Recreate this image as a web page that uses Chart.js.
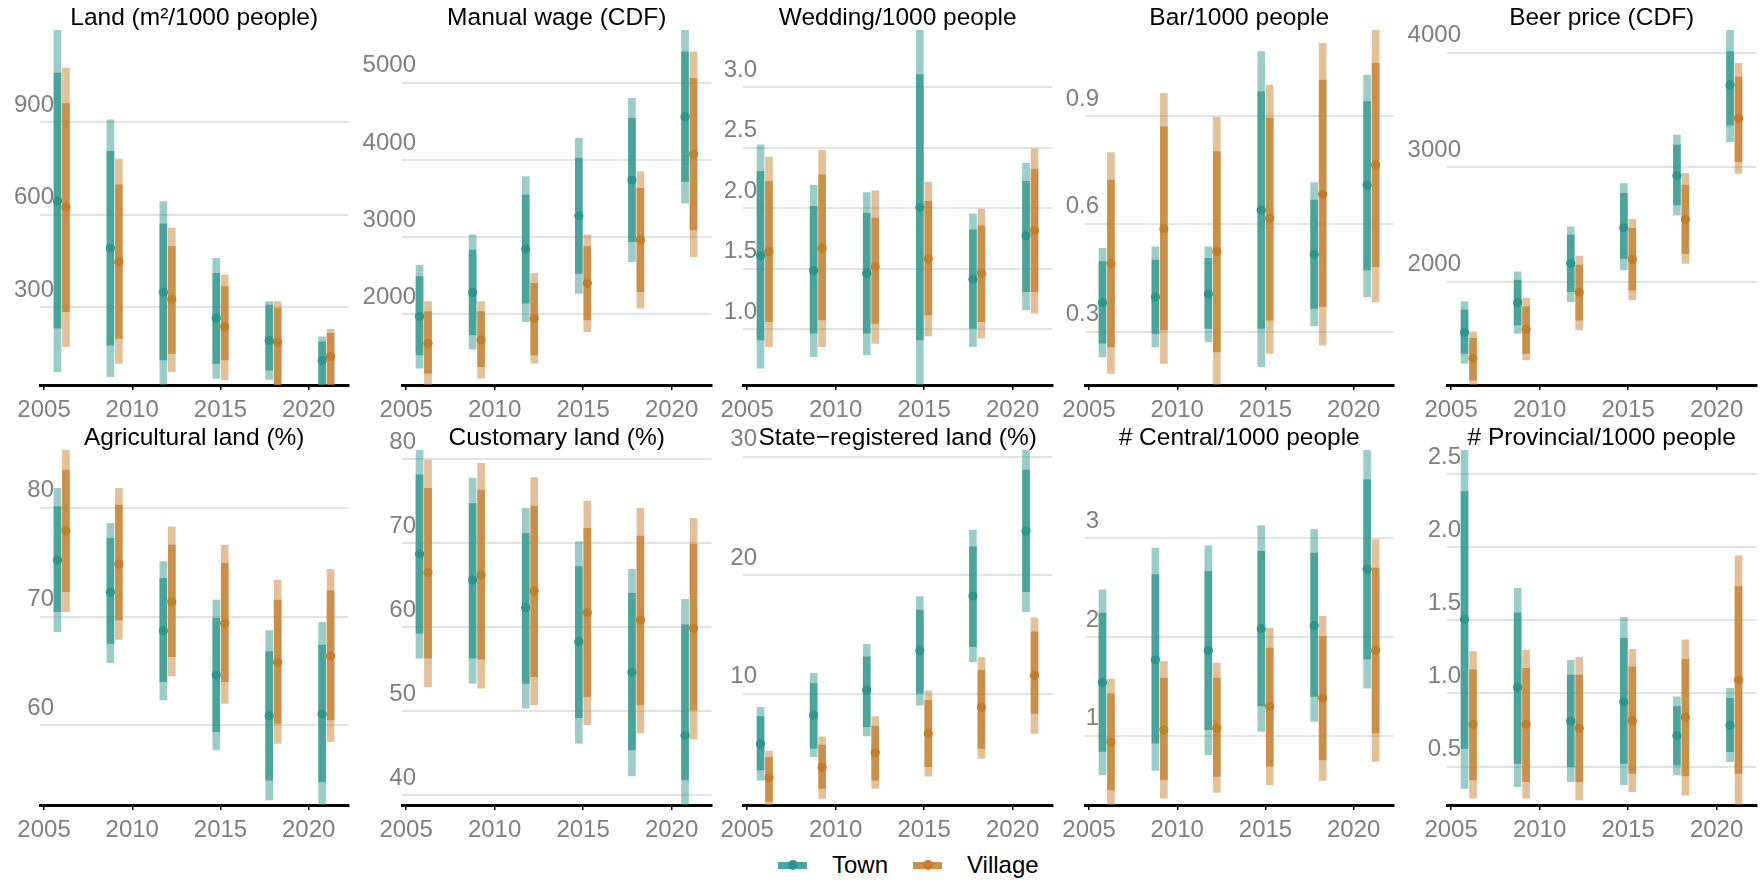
<!DOCTYPE html>
<html>
<head>
<meta charset="utf-8">
<title>Town and village indicators, 2006–2021</title>
<script src="https://cdn.jsdelivr.net/npm/chart.js@4.4.1/dist/chart.umd.min.js"></script>
<style>
  html, body { margin: 0; padding: 0; background: #ffffff; }
  body { width: 1761px; height: 880px; position: relative; overflow: hidden;
         font-family: "Liberation Sans", Arial, Helvetica, sans-serif; }
  canvas.panel { position: absolute; }
  #legend { position: absolute; left: 778px; top: 852px; height: 26px;
            display: flex; align-items: center; font-size: 24px; color: #000; }
  #legend .key { position: relative; width: 29px; height: 26px; margin-right: 25px; }
  #legend .key .bar { position: absolute; left: 0; top: 9.5px; width: 29px; height: 7px; }
  #legend .key .dot { position: absolute; left: 9.5px; top: 8px; width: 10px; height: 10px; border-radius: 50%; }
  #legend .lab { margin-right: 25px; line-height: 26px; }
</style>
</head>
<body>
<div id="legend"></div>
<script>
// ---- survey years and axis labels ----
const years = [2006, 2009, 2012, 2015, 2018, 2021];
const xTickLabels = ['2005', '2010', '2015', '2020'];
const seriesNames = ['Town', 'Village'];

// ---- Land (m²/1000 people) ----
const landTicks = ['300', '600', '900'];
const landTownPoint = [644, 491, 348, 263, 191, 126];
const landTownOuter = [[90, 1250], [74, 907], [30, 642], [68, 458], [65, 317], [20, 203]];
const landTownInner = [[231, 1059], [176, 805], [128, 570], [117, 409], [95, 306], [20, 187]];
const landVillagePoint = [624, 447, 325, 236, 185, 139];
const landVillageOuter = [[171, 1075], [117, 780], [90, 556], [63, 404], [20, 317], [20, 227]];
const landVillageInner = [[285, 960], [198, 696], [149, 496], [128, 366], [30, 296], [20, 214]];

// ---- Manual wage (CDF) ----
const wageTicks = ['2000', '3000', '4000', '5000'];
const wageTownPoint = [1970, 2281, 2846, 3274, 3740, 4560];
const wageTownOuter = [[1301, 2639], [1547, 3028], [1905, 3783], [2272, 4279], [2682, 4797], [3438, 5750]];
const wageTownInner = [[1474, 2488], [1733, 2833], [2143, 3545], [2531, 4020], [2941, 4538], [3718, 5401]];
const wageVillagePoint = [1625, 1668, 1949, 2402, 2963, 4076];
const wageVillageOuter = [[1000, 2164], [1172, 2164], [1366, 2531], [1776, 3028], [2078, 3848], [2747, 5401]];
const wageVillageInner = [[1236, 2035], [1323, 2035], [1474, 2402], [1927, 2877], [2294, 3632], [3092, 5056]];

// ---- Wedding/1000 people ----
const wedTicks = ['1.0', '1.5', '2.0', '2.5', '3.0'];
const wedTownPoint = [1.606, 1.485, 1.463, 2.005, 1.413, 1.771];
const wedTownOuter = [[0.678, 2.523], [0.774, 2.187], [0.788, 2.129], [0.40, 3.60], [0.857, 1.953], [1.160, 2.372]];
const wedTownInner = [[0.912, 2.303], [0.967, 2.014], [0.967, 1.959], [0.912, 3.102], [1.008, 1.821], [1.311, 2.220]];
const wedVillagePoint = [1.642, 1.669, 1.518, 1.581, 1.463, 1.815];
const wedVillageOuter = [[0.857, 2.421], [0.857, 2.477], [0.884, 2.143], [0.945, 2.212], [0.926, 1.992], [1.132, 2.490]];
const wedVillageInner = [[1.063, 2.220], [1.077, 2.275], [1.049, 1.917], [1.118, 2.055], [1.063, 1.854], [1.311, 2.322]];

// ---- Bar/1000 people ----
const barTicks = ['0.3', '0.6', '0.9'];
const barTownPoint = [0.381, 0.397, 0.405, 0.638, 0.515, 0.708];
const barTownOuter = [[0.230, 0.532], [0.258, 0.536], [0.272, 0.536], [0.203, 1.079], [0.316, 0.715], [0.397, 1.014]];
const barTownInner = [[0.268, 0.495], [0.295, 0.499], [0.309, 0.504], [0.309, 0.968], [0.365, 0.666], [0.472, 0.940]];
const barVillagePoint = [0.490, 0.586, 0.523, 0.615, 0.682, 0.764];
const barVillageOuter = [[0.184, 0.798], [0.212, 0.963], [0.10, 0.896], [0.240, 0.986], [0.263, 1.102], [0.383, 1.20]];
const barVillageInner = [[0.258, 0.722], [0.305, 0.870], [0.244, 0.801], [0.332, 0.894], [0.370, 1.000], [0.481, 1.047]];

// ---- Beer price (CDF) ----
const beerTicks = ['2000', '3000', '4000'];
const beerTownPoint = [1558, 1817, 2160, 2472, 2926, 3718];
const beerTownOuter = [[1287, 1825], [1549, 2087], [1825, 2480], [2102, 2859], [2582, 3281], [3223, 4250]];
const beerTownInner = [[1374, 1753], [1622, 2015], [1913, 2407], [2204, 2772], [2670, 3194], [3368, 4009]];
const beerVillagePoint = [1331, 1584, 1907, 2195, 2545, 3427];
const beerVillageOuter = [[1050, 1563], [1316, 1855], [1578, 2224], [1840, 2544], [2160, 2946], [2946, 3907]];
const beerVillageInner = [[1141, 1505], [1374, 1782], [1665, 2146], [1927, 2466], [2248, 2844], [3048, 3790]];

// ---- Agricultural land (%) ----
const agriTicks = ['60', '70', '80'];
const agriTownPoint = [75.19, 72.22, 68.70, 64.62, 60.89, 61.04];
const agriTownOuter = [[68.61, 81.78], [65.76, 78.56], [62.33, 75.04], [57.73, 71.52], [53.14, 68.70], [52.0, 69.46]];
const agriTownInner = [[70.44, 80.09], [67.53, 77.18], [64.01, 73.51], [59.42, 69.83], [54.97, 66.77], [54.82, 67.38]];
const agriVillagePoint = [77.89, 74.82, 71.36, 69.37, 65.79, 66.37];
const agriVillageOuter = [[70.44, 86.0], [67.90, 81.78], [64.53, 78.25], [62.02, 76.57], [58.34, 73.35], [58.50, 74.33]];
const agriVillageInner = [[72.28, 83.46], [69.68, 80.25], [66.31, 76.57], [64.01, 74.88], [60.18, 71.52], [60.49, 72.37]];

// ---- Customary land (%) ----
const custTicks = ['40', '50', '60', '70', '80'];
const custTownPoint = [68.69, 65.60, 62.30, 58.25, 54.60, 47.07];
const custTownOuter = [[56.27, 81.5], [53.29, 77.70], [50.32, 74.13], [46.15, 70.16], [42.26, 66.87], [37.0, 63.29]];
const custTownInner = [[59.25, 78.10], [56.27, 74.72], [53.29, 71.15], [49.21, 67.18], [45.36, 64.01], [41.79, 60.24]];
const custVillagePoint = [66.47, 66.19, 64.29, 61.71, 60.83, 59.84];
const custVillageOuter = [[52.90, 79.88], [52.70, 79.48], [50.72, 77.78], [48.33, 75.00], [47.34, 74.13], [46.63, 72.94]];
const custVillageInner = [[56.27, 76.51], [56.15, 76.31], [54.09, 74.40], [51.71, 71.75], [50.72, 70.83], [50.12, 69.84]];

// ---- State-registered land (%) ----
const stateTicks = ['10', '20', '30'];
const stateTownPoint = [5.75, 8.20, 10.31, 13.63, 18.24, 23.73];
const stateTownOuter = [[2.71, 8.85], [4.68, 11.72], [6.43, 14.16], [9.04, 18.19], [12.70, 23.81], [16.92, 31.0]];
const stateTownInner = [[3.56, 8.06], [5.39, 10.87], [7.21, 13.12], [10.03, 17.06], [13.97, 22.40], [18.61, 28.87]];
const stateVillagePoint = [2.91, 3.78, 5.02, 6.65, 8.85, 11.55];
const stateVillageOuter = [[0.2, 5.16], [1.17, 6.37], [2.01, 8.06], [3.05, 10.25], [4.54, 13.04], [6.65, 16.41]];
const stateVillageInner = [[0.9, 4.63], [2.01, 5.67], [2.71, 7.27], [3.84, 9.41], [5.39, 12.00], [8.34, 15.23]];

// ---- # Central/1000 people ----
const centTicks = ['1', '2', '3'];
const centTownPoint = [1.540, 1.769, 1.863, 2.083, 2.113, 2.686];
const centTownOuter = [[0.605, 2.477], [0.649, 2.899], [0.808, 2.922], [1.044, 3.125], [1.145, 3.084], [1.482, 4.0]];
const centTownInner = [[0.841, 2.241], [0.926, 2.629], [1.061, 2.663], [1.303, 2.865], [1.398, 2.848], [1.776, 3.590]];
const centVillagePoint = [0.936, 1.061, 1.077, 1.297, 1.381, 1.863];
const centVillageOuter = [[0.2, 1.573], [0.369, 1.752], [0.426, 1.735], [0.504, 2.089], [0.548, 2.207], [0.741, 2.983]];
const centVillageInner = [[0.453, 1.425], [0.555, 1.583], [0.588, 1.583], [0.690, 1.887], [0.757, 2.005], [1.027, 2.696]];

// ---- # Provincial/1000 people ----
const provTicks = ['0.5', '1.0', '1.5', '2.0', '2.5'];
const provTownPoint = [1.507, 1.042, 0.812, 0.944, 0.712, 0.782];
const provTownOuter = [[0.352, 2.75], [0.363, 1.719], [0.397, 1.229], [0.375, 1.520], [0.443, 0.978], [0.534, 1.035]];
const provTownInner = [[0.625, 2.379], [0.523, 1.552], [0.500, 1.126], [0.523, 1.377], [0.511, 0.910], [0.602, 0.967]];
const provVillagePoint = [0.789, 0.789, 0.762, 0.814, 0.837, 1.092];
const provVillageOuter = [[0.284, 1.286], [0.284, 1.297], [0.272, 1.245], [0.329, 1.302], [0.306, 1.366], [0.2, 1.940]];
const provVillageInner = [[0.409, 1.161], [0.397, 1.172], [0.397, 1.126], [0.454, 1.183], [0.436, 1.233], [0.454, 1.730]];

// ---- panel table: title, y ticks, visible y range and the series arrays ----
const panels = [
  { title: 'Land (m²/1000 people)', ticks: landTicks, yMin: 46.6, yMax: 1199,
    town: [landTownOuter, landTownInner, landTownPoint], village: [landVillageOuter, landVillageInner, landVillagePoint] },
  { title: 'Manual wage (CDF)', ticks: wageTicks, yMin: 1084, yMax: 5683,
    town: [wageTownOuter, wageTownInner, wageTownPoint], village: [wageVillageOuter, wageVillageInner, wageVillagePoint] },
  { title: 'Wedding/1000 people', ticks: wedTicks, yMin: 0.54, yMax: 3.47,
    town: [wedTownOuter, wedTownInner, wedTownPoint], village: [wedVillageOuter, wedVillageInner, wedVillagePoint] },
  { title: 'Bar/1000 people', ticks: barTicks, yMin: 0.152, yMax: 1.139,
    town: [barTownOuter, barTownInner, barTownPoint], village: [barVillageOuter, barVillageInner, barVillagePoint] },
  { title: 'Beer price (CDF)', ticks: beerTicks, yMin: 1098, yMax: 4198,
    town: [beerTownOuter, beerTownInner, beerTownPoint], village: [beerVillageOuter, beerVillageInner, beerVillagePoint] },
  { title: 'Agricultural land (%)', ticks: agriTicks, yMin: 52.68, yMax: 85.3,
    town: [agriTownOuter, agriTownInner, agriTownPoint], village: [agriVillageOuter, agriVillageInner, agriVillagePoint] },
  { title: 'Customary land (%)', ticks: custTicks, yMin: 38.8, yMax: 81.07,
    town: [custTownOuter, custTownInner, custTownPoint], village: [custVillageOuter, custVillageInner, custVillagePoint] },
  { title: 'State\u2212registered land (%)', ticks: stateTicks, yMin: 0.61, yMax: 30.56,
    town: [stateTownOuter, stateTownInner, stateTownPoint], village: [stateVillageOuter, stateVillageInner, stateVillagePoint] },
  { title: '# Central/1000 people', ticks: centTicks, yMin: 0.30, yMax: 3.89,
    town: [centTownOuter, centTownInner, centTownPoint], village: [centVillageOuter, centVillageInner, centVillagePoint] },
  { title: '# Provincial/1000 people', ticks: provTicks, yMin: 0.238, yMax: 2.664,
    town: [provTownOuter, provTownInner, provTownPoint], village: [provVillageOuter, provVillageInner, provVillagePoint] }
];

// ---- page geometry (plot areas in page pixels) ----
const colLeft = [40, 402, 743, 1085, 1447];
const colRight = [350, 713, 1054, 1395, 1758];
const rowTop = [30, 450];
const rowBottom = [385, 805];
const Y_AXIS_W = 55, RIGHT_PAD = 3, TITLE_H = 30, X_AXIS_H = 35;
const LABEL_INSET = 14;          // y labels end this far inside the plot area
const X_MIN = 2004.77, X_MAX = 2022.25, DODGE = 0.24;

// ---- styling ----
const FONT = '"Liberation Sans", Arial, Helvetica, sans-serif';
const TICK_SIZE = 24;
const TEAL = '43,150,140';
const ORANGE = '196,125,40';
const OUTER_ALPHA = 0.48, INNER_ALPHA = 0.72;

Chart.defaults.font.family = FONT;

// text measurer, used to right-align the mirrored y labels
const measureCtx = document.createElement('canvas').getContext('2d');
measureCtx.font = `${TICK_SIZE}px ${FONT}`;

function band(rows, offset, rgb, alpha, order) {
  return {
    type: 'bar',
    data: rows.map((r, k) => ({ x: years[k] + offset, y: r })),
    backgroundColor: `rgba(${rgb},${alpha})`,
    borderWidth: 0,
    barThickness: 7,
    grouped: false,
    order: order
  };
}

function dots(values, offset, rgb) {
  return {
    type: 'scatter',
    data: values.map((v, k) => ({ x: years[k] + offset, y: v })),
    pointRadius: 4.6,
    pointBackgroundColor: `rgb(${rgb})`,
    pointBorderWidth: 0,
    order: 0
  };
}

panels.forEach((p, i) => {
  const col = i % 5, row = Math.floor(i / 5);
  const left = colLeft[col], right = colRight[col];
  const top = rowTop[row], bottom = rowBottom[row];
  const W = right - left + Y_AXIS_W + RIGHT_PAD;
  const H = bottom - top + TITLE_H + X_AXIS_H;

  const canvas = document.createElement('canvas');
  canvas.className = 'panel';
  canvas.width = W;
  canvas.height = H;
  canvas.style.width = W + 'px';
  canvas.style.height = H + 'px';
  canvas.style.left = (left - Y_AXIS_W) + 'px';
  canvas.style.top = (top - TITLE_H) + 'px';
  document.body.appendChild(canvas);

  const widest = Math.max(...p.ticks.map(t => measureCtx.measureText(t).width));

  const [tOuter, tInner, tPoint] = p.town;
  const [vOuter, vInner, vPoint] = p.village;

  new Chart(canvas, {
    type: 'bar',
    data: {
      datasets: [
        dots(tPoint, -DODGE, TEAL),
        dots(vPoint, DODGE, ORANGE),
        band(tInner, -DODGE, TEAL, INNER_ALPHA, 1),
        band(vInner, DODGE, ORANGE, INNER_ALPHA, 1),
        band(tOuter, -DODGE, TEAL, OUTER_ALPHA, 2),
        band(vOuter, DODGE, ORANGE, OUTER_ALPHA, 2)
      ]
    },
    options: {
      responsive: false,
      animation: false,
      devicePixelRatio: 1,
      events: [],
      layout: { padding: { left: 0, right: RIGHT_PAD, top: 0, bottom: 0 } },
      plugins: {
        legend: { display: false },
        tooltip: { enabled: false },
        title: {
          display: true,
          text: p.title,
          fullSize: false,
          color: '#000000',
          font: { family: FONT, size: 24.5, weight: 'normal', lineHeight: '23px' },
          padding: { top: 7, bottom: 0 }
        }
      },
      scales: {
        x: {
          type: 'linear',
          min: X_MIN,
          max: X_MAX,
          offset: false,
          afterBuildTicks: s => { s.ticks = xTickLabels.map(v => ({ value: Number(v) })); },
          afterFit: s => { s.height = X_AXIS_H; },
          ticks: {
            callback: (v, k) => xTickLabels[k],
            color: '#7f7f7f',
            font: { family: FONT, size: TICK_SIZE },
            padding: 6,
            maxRotation: 0,
            autoSkip: false
          },
          grid: { display: true, offset: false, drawOnChartArea: false, drawTicks: true,
                  tickLength: 5, color: '#000000', lineWidth: 1.5 },
          border: { display: true, color: '#000000', width: 3 }
        },
        y: {
          type: 'linear',
          min: p.yMin,
          max: p.yMax,
          afterBuildTicks: s => { s.ticks = p.ticks.map(v => ({ value: Number(v) })); },
          afterFit: s => { s.width = Y_AXIS_W; },
          ticks: {
            callback: (v, k) => p.ticks[k],
            color: '#7f7f7f',
            font: { family: FONT, size: TICK_SIZE },
            mirror: true,
            crossAlign: 'far',
            padding: LABEL_INSET - widest,
            labelOffset: -17,
            autoSkip: false
          },
          grid: { color: '#e3e3e3', lineWidth: 2, drawTicks: false },
          border: { display: false }
        }
      }
    }
  });
});

// ---- shared legend ----
const legendColours = [[TEAL, '74,165,157'], [ORANGE, '205,144,71']];
const legend = document.getElementById('legend');
seriesNames.forEach((name, k) => {
  const key = document.createElement('span');
  key.className = 'key';
  const bar = document.createElement('span');
  bar.className = 'bar';
  bar.style.background = `rgb(${legendColours[k][1]})`;
  const dot = document.createElement('span');
  dot.className = 'dot';
  dot.style.background = `rgb(${legendColours[k][0]})`;
  key.appendChild(bar);
  key.appendChild(dot);
  const lab = document.createElement('span');
  lab.className = 'lab';
  lab.textContent = name;
  legend.appendChild(key);
  legend.appendChild(lab);
});
</script>
</body>
</html>
